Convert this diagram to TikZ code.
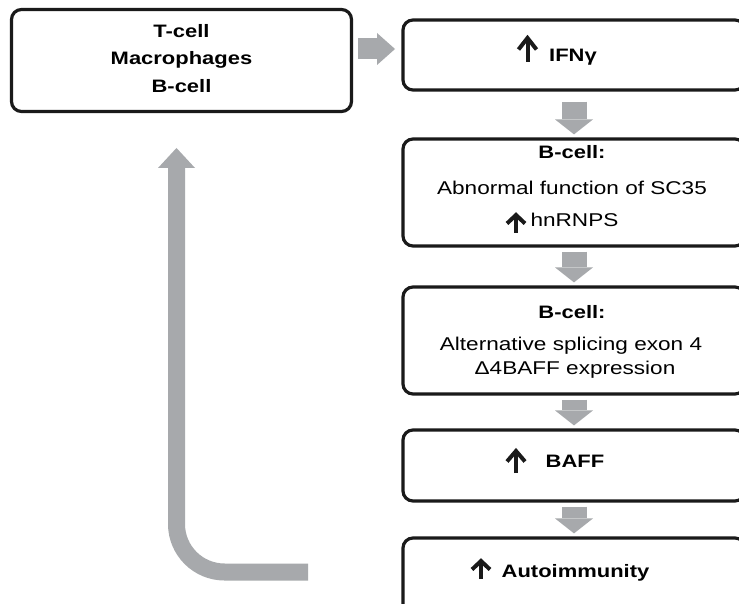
\documentclass[tikz,border=0pt]{standalone}
\usepackage{fontspec}
\setmainfont[FakeStretch=1.22]{Liberation Sans}
\usetikzlibrary{arrows.meta,calc}
\definecolor{garrow}{HTML}{A7A9AC}
\definecolor{edgecol}{HTML}{1A1A1A}
\tikzset{upmarkline/.style={draw=edgecol,line width=4pt}}
\newcommand\upmark[4]{%
  \draw[upmarkline,line cap=butt] (#1,#2+#3) -- (#1,#2+3);
  \draw[upmarkline,miter limit=10] (#1-#4/2+2,#2+#3*0.5+1) -- (#1,#2+3) -- (#1+#4/2-2,#2+#3*0.5+1);}
\begin{document}
\begin{tikzpicture}[x=1pt,y=-1pt,
  box/.style={draw=edgecol,line width=3.2pt,rounded corners=10pt,rectangle,inner sep=0pt},
  bt/.style={anchor=base,inner sep=0pt,font=\fontsize{18}{21}\selectfont\bfseries},
  rt/.style={anchor=base,inner sep=0pt,font=\fontsize{18.5}{22}\selectfont},
  blk/.style={draw=garrow,line width=25pt,-{Triangle[width=38pt,length=15pt,line width=0pt]}},
  hblk/.style={draw=garrow,line width=21pt,-{Triangle[width=32pt,length=18pt,line width=0pt]}},
  retarrow/.style={draw=garrow,line width=17pt,rounded corners=48pt,-{Triangle[width=37pt,length=20pt,line width=0pt]}},
]
\fill[white] (0,0) rectangle (739,604);
\useasboundingbox (0,0) rectangle (739,604);

% boxes
\node[box,minimum width=340pt,minimum height=102pt] (lbox) at (181.5,60.5) {};
\node[box,minimum width=342pt,minimum height=70pt] (ifn) at (574,55) {};
\node[box,minimum width=342pt,minimum height=107pt] (b2) at (574,192.5) {};
\node[box,minimum width=342pt,minimum height=107pt] (b3) at (574,340.5) {};
\node[box,minimum width=342pt,minimum height=71pt] (b4) at (574,465.5) {};
\node[box,minimum width=342pt,minimum height=102pt] (b5) at (574,589) {};

% texts
\node[bt] (l1) at (181.5,37.5) {T-cell};
\node[bt] (l2) at (181.5,65) {Macrophages};
\node[bt] (l3) at (181.5,92.5) {B-cell};

\node[bt] (t1) at (573,61.5) {IFNγ};

\node[bt] (t2a) at (572,159) {B-cell:};
\node[rt] (t2b) at (572,195) {Abnormal function of SC35};
\node[rt] (t2c) at (574.5,226) {hnRNPS};

\node[bt] (t3a) at (572,318) {B-cell:};
\node[rt] (t3b) at (571,350) {Alternative splicing exon 4};
\node[rt] (t3c) at (575,374) {Δ4BAFF expression};

\node[bt] (t4) at (575,467.5) {BAFF};
\node[bt] (t5) at (575.5,577) {Autoimmunity};

% black up marks
\upmark{527.5}{35}{27}{22}
\upmark{516}{212}{21}{22}
\upmark{516}{448}{25}{22}
\upmark{481}{558}{21}{22}

% gray block arrows
\coordinate (h1) at (358,49);
\coordinate (h2) at (395,49);
\draw[hblk] (h1) -- (h2);
\draw[blk] ([yshift=-10pt]ifn.south) -- ([yshift=3pt]b2.north);
\draw[blk] ([yshift=-4pt]b2.south) -- ([yshift=3pt]b3.north);
\draw[blk] ([yshift=-4pt]b3.south) -- ([yshift=3pt]b4.north);
\draw[blk] ([yshift=-4pt]b4.south) -- ([yshift=3pt]b5.north);

% return arrow
\coordinate (retstart) at (308,572);
\coordinate (rettip) at (176.5,148);
\draw[retarrow] (retstart) -| (rettip);
\end{tikzpicture}
\end{document}
